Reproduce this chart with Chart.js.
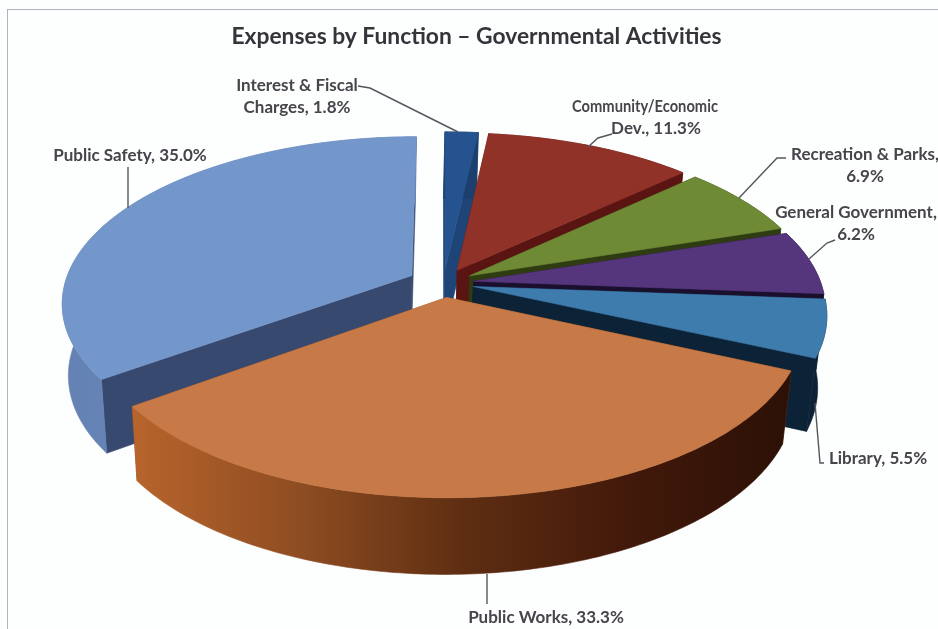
<!DOCTYPE html>
<html>
<head>
<meta charset="utf-8">
<script src="https://cdn.jsdelivr.net/npm/chart.js@4"></script>
<style>
  html, body { margin: 0; padding: 0; background: #fdfefe; }
  canvas { display: block; }
</style>
</head>
<body>
<canvas id="chart" width="938" height="629"></canvas>
<script>
const categories = ['Interest & Fiscal Charges', 'Community/Economic Dev.', 'Recreation & Parks', 'General Government', 'Library', 'Public Works', 'Public Safety'];
const shares = [1.8, 11.3, 6.9, 6.2, 5.5, 33.3, 35.0];
const explode = [24, 24, 24, 24, 24, 24, 28];

const topColors = ['#25538f', '#913228', '#6e8a35', '#55367c', '#3f7cae', '#c77a47', '#7497cb'];
const cutColors = ['#1e4478', '#5a1512', '#2f3c12', '#1a0f2c', '#0c2236', '#8a4a20', '#38496f'];
const rimColors = [
    ['#1d3f6e', '#1d3f6e'],
    ['#5a1512', '#5a1512'],
    ['#2f3c12', '#2f3c12'],
    ['#1a0f2c', '#1a0f2c'],
    ['#0c2236', '#0c2236'],
    ['#b8642c', '#8f4d22', '#5f2e12', '#42190a', '#2c1006'],
    ['#6582b4', '#6a88ba'],
];
const paintOrder = [0, 1, 2, 3, 4, 6, 5];

// label lines, the last one carries the value
const labelLines = [
    ['Interest & Fiscal', 'Charges, '],
    ['Community/Economic', 'Dev., '],
    ['Recreation & Parks,', ''],
    ['General Government,', ''],
    ['Library, '],
    ['Public Works, '],
    ['Public Safety, '],
];
// x of the first line, y of the first line, x shift of the second line
const labelCentres = [[297, 86, 0], [645, 107, 11], [865, 155, 0], [856, 213, 0], [878, 459, 0], [546, 618, 0], [130, 156, 0]];
const leaders = [
    [[358, 86], [370, 88], [458, 132]],
    [[612, 134], [598, 138], [588, 147]],
    [[786, 158], [777, 158], [739, 198]],
    [[835, 240], [827, 243], [809, 259]],
    [[824, 463], [820, 463], [815, 403]],
    [[487, 574], [487, 604]],
    [[128, 167], [128, 208]],
];
const longestLine = 164;
const communityLine = 146;

// tilted view of the flat pie
const view = { cx: 443.5, cy: 283, radius: 347, squash: 0.47, persp: 0.16, shear: 0, depth: 71, converge: 0.02, drift: 1.5 };

function project(nx, ny, h) {
    const s = 1 / (1 - view.persp * ny);
    const shrink = 1 - view.converge * h;
    return [
        view.cx + (nx * view.radius * s + view.shear * ny) * shrink - view.drift * h,
        view.cy + view.squash * view.radius * ny * s + view.depth * h * Math.pow(s, 0.4),
    ];
}

function fillPoly(ctx, pts, fill) {
    ctx.beginPath();
    pts.forEach((p, i) => (i ? ctx.lineTo(p[0], p[1]) : ctx.moveTo(p[0], p[1])));
    ctx.closePath();
    ctx.fillStyle = fill;
    ctx.strokeStyle = fill;
    ctx.lineWidth = 0.6;
    ctx.fill();
    ctx.stroke();
}

const pie3d = {
    id: 'pie3d',
    beforeDraw(chart) {
        const ctx = chart.ctx;
        ctx.save();
        ctx.strokeStyle = '#b0b2bc';
        ctx.lineWidth = 1;
        ctx.strokeRect(7.5, 9.5, 940, 640);
        ctx.restore();
    },
    beforeDatasetsDraw(chart) {
        const ctx = chart.ctx;
        const arcs = chart.getDatasetMeta(0).data;
        ctx.save();
        paintOrder.forEach(i => {
            const el = arcs[i];
            const mid = (el.startAngle + el.endAngle) / 2;
            const off = el.options.offset / el.outerRadius;
            const ox = off * Math.cos(mid);
            const oy = off * Math.sin(mid);
            const steps = Math.max(4, Math.ceil((el.endAngle - el.startAngle) * 60));
            const rim = [];
            for (let k = 0; k <= steps; k++) {
                const a = el.startAngle + (el.endAngle - el.startAngle) * k / steps;
                rim.push([ox + Math.cos(a), oy + Math.sin(a)]);
            }
            const at = h => p => project(p[0], p[1], h);
            const apex = [ox, oy];
            const first = rim[0];
            const last = rim[rim.length - 1];

            fillPoly(ctx, [project(ox, oy, 0), at(0)(first), at(1)(first), project(ox, oy, 1)], cutColors[i]);
            fillPoly(ctx, [project(ox, oy, 0), at(0)(last), at(1)(last), project(ox, oy, 1)], cutColors[i]);

            const topRim = rim.map(at(0));
            const lowRim = rim.map(at(1));
            const xs = topRim.map(p => p[0]);
            const grad = ctx.createLinearGradient(Math.min(...xs), 0, Math.max(...xs), 0);
            const stops = rimColors[i];
            stops.forEach((c, n) => grad.addColorStop(n / (stops.length - 1), c));
            fillPoly(ctx, topRim.concat(lowRim.slice().reverse()), grad);

            fillPoly(ctx, [at(0)(apex)].concat(topRim), el.options.backgroundColor);
        });

        // leader lines and value labels
        ctx.strokeStyle = '#55555c';
        ctx.lineWidth = 1.4;
        leaders.forEach(line => {
            ctx.beginPath();
            line.forEach((p, n) => (n ? ctx.lineTo(p[0], p[1]) : ctx.moveTo(p[0], p[1])));
            ctx.stroke();
        });
        ctx.fillStyle = '#47444c';
        ctx.font = 'bold 17px Lato';
        ctx.textAlign = 'center';
        ctx.textBaseline = 'middle';
        labelLines.forEach((lines, i) => {
            const [x, y, shift] = labelCentres[i];
            lines.forEach((text, n) => {
                const line = n === lines.length - 1 ? text + shares[i].toFixed(1) + '%' : text;
                const fit = i === 1 && n === 0 ? communityLine : longestLine;
                ctx.fillText(line, x + n * shift, y + n * 22, fit);
            });
        });
        ctx.restore();
        return false;
    },
};

new Chart(document.getElementById('chart'), {
    type: 'pie',
    data: {
        labels: categories,
        datasets: [{
            data: shares,
            backgroundColor: topColors,
            borderWidth: 0,
            offset: explode,
        }],
    },
    options: {
        responsive: false,
        animation: false,
        layout: { padding: { left: 15 } },
        plugins: {
            legend: { display: false },
            tooltip: { enabled: false },
            title: {
                display: true,
                text: 'Expenses by Function \u2013 Governmental Activities',
                color: '#34343a',
                font: { family: 'Lato', size: 22.8, weight: 'bold' },
                padding: { top: 23, bottom: 6 },
            },
        },
    },
    plugins: [pie3d],
});
</script>
</body>
</html>
